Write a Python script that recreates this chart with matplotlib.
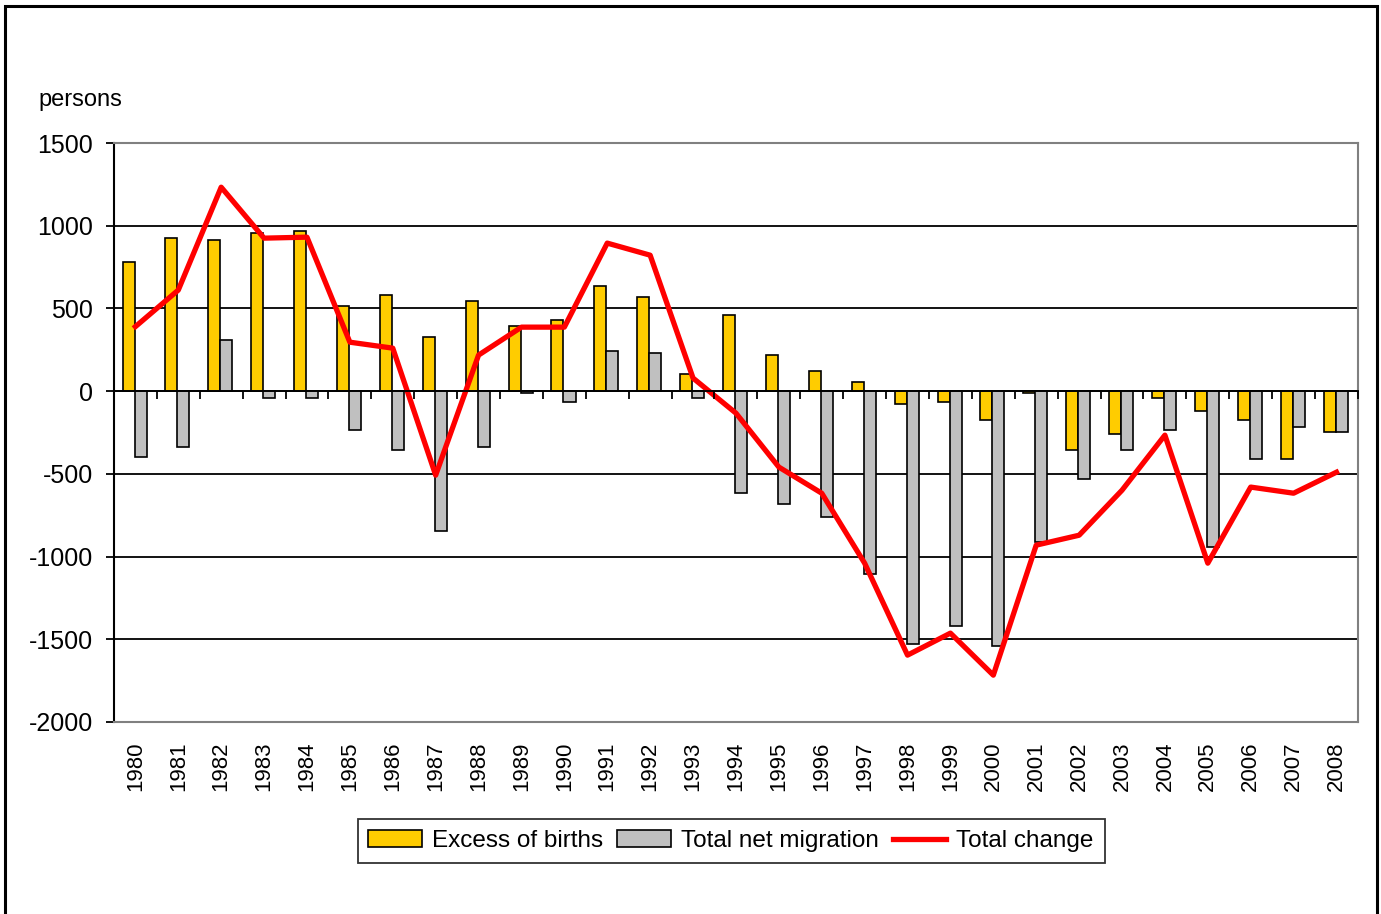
import numpy as np
import matplotlib
matplotlib.use("Agg")
import matplotlib.pyplot as plt
import matplotlib.patches as patches

plt.rcParams["font.family"] = ["Liberation Sans Narrow", "Liberation Sans", "DejaVu Sans"]

years = [str(y) for y in range(1980, 2009)]
excess_of_births = [
    780, 925, 913, 955, 967, 514, 580, 326, 544, 393,
    429, 635, 568, 103, 460, 218, 121, 54, -79, -66,
    -175, -12, -357, -260, -42, -121, -175, -411, -248,
]
net_migration = [
    -399, -339, 308, -42, -42, -236, -357, -846, -339, -12,
    -66, 242, 230, -42, -617, -683, -762, -1106, -1530, -1421,
    -1542, -913, -532, -357, -236, -943, -411, -218, -248,
]
total_change = [
    390, 611, 1233, 925, 931, 296, 260, -508, 218, 387,
    387, 895, 822, 79, -133, -459, -617, -1040, -1596, -1463,
    -1717, -931, -871, -599, -266, -1040, -580, -617, -490,
]
y_ticks = [1500, 1000, 500, 0, -500, -1000, -1500, -2000]

fig = plt.figure(figsize=(13.81, 9.14), dpi=100)
ax = fig.add_axes([0.0825, 0.2101, 0.9008, 0.6334])

x = np.arange(len(years))
bar_w = 0.28
b1 = ax.bar(x - bar_w / 2 - 0.02, excess_of_births, bar_w, color="#FFCC00",
            edgecolor="black", linewidth=1.2, label="Excess of births", zorder=3)
b2 = ax.bar(x + bar_w / 2 - 0.02, net_migration, bar_w, color="#C0C0C0",
            edgecolor="black", linewidth=1.2, label="Total net migration", zorder=3)
l1, = ax.plot(x, total_change, color="#FF0000", linewidth=3.8,
              label="Total change", zorder=4)

ax.set_xlim(-0.5, len(years) - 0.5)
ax.set_ylim(-2000, 1500)
ax.set_yticks(y_ticks)
ax.set_yticklabels([str(v) for v in y_ticks], fontsize=18)
ax.yaxis.grid(True, color="black", linewidth=1.3, zorder=0)
ax.set_axisbelow(True)
ax.tick_params(axis="y", direction="out", length=6, width=1.3, pad=9)

ax.set_xticks(x)
ax.set_xticklabels(years, rotation=90, fontsize=16)
ax.tick_params(axis="x", length=0, pad=14)

for side in ["top", "right", "bottom"]:
    ax.spines[side].set_color("#808080")
    ax.spines[side].set_linewidth(1.5)
ax.spines["left"].set_linewidth(1.5)

# x axis line at zero with ticks between categories
ax2 = ax.twiny()
ax2.set_xlim(ax.get_xlim())
ax2.spines["bottom"].set_position(("data", 0))
for side in ["top", "right", "left"]:
    ax2.spines[side].set_visible(False)
ax2.spines["bottom"].set_linewidth(1.3)
ax2.xaxis.set_ticks_position("bottom")
ax2.set_xticks(np.arange(-0.5, len(years), 1.0))
ax2.set_xticklabels([])
ax2.tick_params(axis="x", direction="out", length=6, width=1.3)

fig.text(38 / 1381, 1 - 100 / 914, "persons", fontsize=17, va="center", ha="left")

leg = fig.legend([b1, b2, l1], ["Excess of births", "Total net migration", "Total change"],
                 loc="center", bbox_to_anchor=(731 / 1381, 1 - 841 / 914),
                 ncol=3, fontsize=17.5, frameon=True, fancybox=False,
                 edgecolor="black", handlelength=2.2, handletextpad=0.4,
                 columnspacing=0.6, borderpad=0.45)
leg.get_frame().set_linewidth(1.3)

fig.patches.append(patches.Rectangle((5 / 1381, -0.01), 1372 / 1381, 1 - 6 / 914 + 0.01,
                                     transform=fig.transFigure, fill=False,
                                     edgecolor="black", linewidth=2.2))

fig.savefig("out.png", dpi=100)
